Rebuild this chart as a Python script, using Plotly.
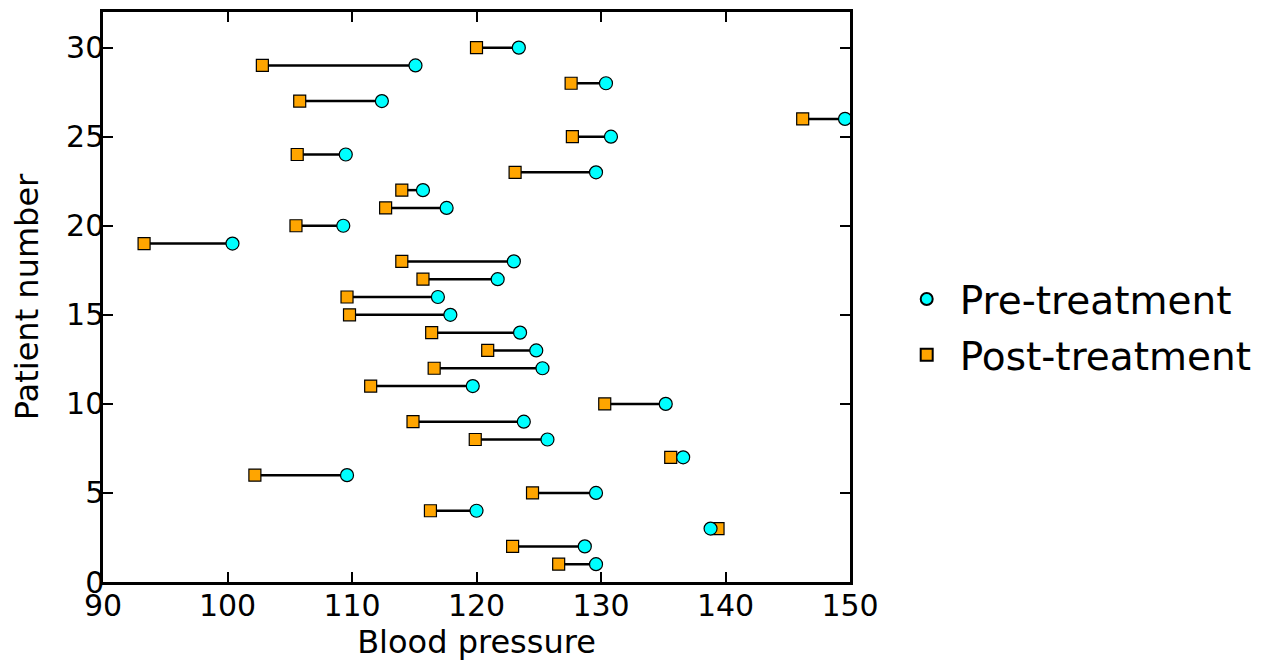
import plotly.graph_objects as go

patients = list(range(1, 31))
pre_treatment = [129.6, 128.7, 138.8, 120.0, 129.6, 109.6, 136.6, 125.7, 123.8, 135.2,
                 119.7, 125.3, 124.8, 123.5, 117.9, 116.9, 121.7, 123.0, 100.4, 109.3,
                 117.6, 115.7, 129.6, 109.5, 130.8, 149.6, 112.4, 130.4, 115.1, 123.4]
post_treatment = [126.6, 122.9, 139.4, 116.3, 124.5, 102.2, 135.6, 119.9, 114.9, 130.3,
                  111.5, 116.6, 120.9, 116.4, 109.8, 109.6, 115.7, 114.0, 93.3, 105.5,
                  112.7, 114.0, 123.1, 105.6, 127.7, 146.2, 105.8, 127.6, 102.8, 120.0]
x_ticks = [90, 100, 110, 120, 130, 140, 150]
y_ticks = [0, 5, 10, 15, 20, 25, 30]

FONT = "DejaVu Sans"

# connecting segments
seg_x, seg_y = [], []
for p, a, b in zip(patients, pre_treatment, post_treatment):
    seg_x += [a, b, None]
    seg_y += [p, p, None]

fig = go.Figure()
fig.add_trace(go.Scatter(x=seg_x, y=seg_y, mode="lines",
                         line=dict(color="black", width=2.5),
                         showlegend=False, hoverinfo="skip"))
fig.add_trace(go.Scatter(x=post_treatment, y=patients, mode="markers",
                         name="Post-treatment", legendrank=2, legendgroup="post",
                         marker=dict(symbol="square", size=12, color="#FFA500",
                                     line=dict(color="black", width=1.2))))
fig.add_trace(go.Scatter(x=pre_treatment, y=patients, mode="markers",
                         name="Pre-treatment", legendrank=1, legendgroup="pre",
                         marker=dict(symbol="circle", size=13, color="#00FFFF",
                                     line=dict(color="black", width=1.2))))

axis_common = dict(showline=True, linecolor="black", linewidth=2.5, mirror="ticks",
                   ticks="inside", ticklen=10, tickwidth=1.5, tickcolor="black",
                   showgrid=False, zeroline=False, automargin=False,
                   tickfont=dict(family=FONT, size=30, color="black"))

fig.update_xaxes(range=[90, 150], tickvals=x_ticks, ticktext=[str(v) for v in x_ticks],
                 ticklabelstandoff=-5,
                 title=dict(text="Blood pressure", font=dict(family=FONT, size=32, color="black"),
                            standoff=6),
                 **axis_common)
fig.update_yaxes(range=[0, 32], tickvals=y_ticks, ticktext=[str(v) for v in y_ticks],
                 ticklabelstandoff=-10,
                 title=dict(text="Patient number", font=dict(family=FONT, size=32, color="black"),
                            standoff=18),
                 **axis_common)

# page body adds a small offset; compensate so the plot area sits at x 101-853, y 12-582
fig.update_layout(
    width=1253, height=654,
    margin=dict(l=95, r=406, t=4, b=80),
    plot_bgcolor="white", paper_bgcolor="white",
    font=dict(family=FONT, color="black"),
    legend=dict(x=1.0585, y=0.447, xanchor="left", yanchor="middle",
                font=dict(family=FONT, size=39, color="black"),
                bgcolor="rgba(0,0,0,0)", itemsizing="constant", itemwidth=56,
                traceorder="grouped", tracegroupgap=2),
)

fig.write_html("out.html")
